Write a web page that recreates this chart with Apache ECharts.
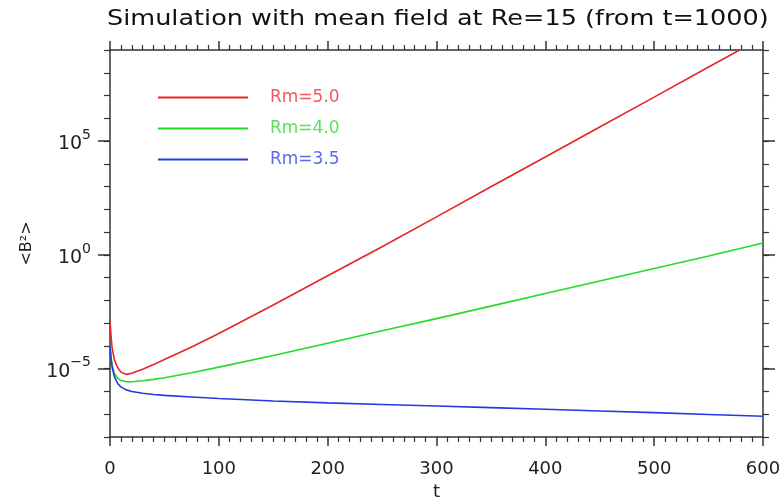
<!DOCTYPE html>
<html>
<head>
<meta charset="utf-8">
<script src="https://cdn.jsdelivr.net/npm/echarts@6/dist/echarts.min.js"></script>
<style>
  html, body { margin: 0; padding: 0; background: #fff; }
  #chart { width: 784px; height: 499px; }
</style>
</head>
<body>
<div id="chart"></div>
<script>
// time samples (t) shared by all three runs
const times = [0, 1, 2, 4, 7, 10, 15, 20, 30, 40, 50, 75, 100, 150, 200, 250, 300, 350, 400, 450, 500, 550, 600];

// log10 <B^2>
const rm50 = [-2.9, -3.6, -4.1, -4.6, -4.95, -5.15, -5.25, -5.2, -5.02, -4.82, -4.6, -4.05, -3.45, -2.2, -0.92, 0.36, 1.67, 2.99, 4.3, 5.62, 6.93, 8.25, 9.56];
const rm40 = [-4.0, -4.5, -4.85, -5.2, -5.42, -5.52, -5.57, -5.57, -5.53, -5.47, -5.4, -5.18, -4.93, -4.42, -3.88, -3.33, -2.8, -2.25, -1.7, -1.15, -0.6, -0.05, 0.52];
const rm35 = [-4.0, -4.55, -4.95, -5.35, -5.65, -5.8, -5.93, -6.0, -6.08, -6.13, -6.17, -6.24, -6.31, -6.42, -6.5, -6.57, -6.64, -6.71, -6.78, -6.86, -6.93, -7.01, -7.09];

const seriesNames = ["Rm=5.0", "Rm=4.0", "Rm=3.5"];
const seriesValues = [rm50, rm40, rm35];
const lineColors = ["#e82424", "#24dc24", "#2438e4"];
const textColors = ["#f05a5a", "#5ae05a", "#5a6ae8"];

const xTicks = [0, 100, 200, 300, 400, 500, 600];
const yLabelExps = [-5, 0, 5];

const chart = echarts.init(document.getElementById("chart"), null, { renderer: "canvas" });

const axisColor = "#333";
const font = "DejaVu Sans";

const xAxisBase = {
  type: "value",
  gridIndex: 0,
  min: 0,
  max: 600,
  interval: 100,
  axisLine: { show: true, onZero: false, lineStyle: { color: axisColor, width: 1.5 } },
  axisTick: { show: true, length: 9, lineStyle: { color: axisColor, width: 1.5 } },
  minorTick: { show: true, splitNumber: 10, length: 5, lineStyle: { color: axisColor, width: 1.2 } },
  splitLine: { show: false },
};

// ticks every decade, short
const yMinor = (pos) => ({
  type: "value",
  gridIndex: 0,
  position: pos,
  offset: 0,
  min: -8,
  max: 9,
  interval: 1,
  axisLine: { show: true, onZero: false, lineStyle: { color: axisColor, width: 1.5 } },
  axisTick: { show: true, length: 6, lineStyle: { color: axisColor, width: 1.2 } },
  axisLabel: { show: false },
  splitLine: { show: false },
});

// longer ticks at the labelled decades
const yMajor = (pos) => ({
  type: "value",
  gridIndex: 0,
  position: pos,
  offset: 0,
  min: -8,
  max: 9,
  axisLine: { show: false, onZero: false },
  axisTick: { show: true, length: 12, customValues: yLabelExps, lineStyle: { color: axisColor, width: 1.5 } },
  axisLabel: { show: false },
  splitLine: { show: false },
});

const option = {
  animation: false,
  backgroundColor: "#fff",
  graphic: [
    {
      type: "text",
      x: 107,
      y: 19,
      scaleX: 1.16,
      style: {
        text: "Simulation with mean field at Re=15 (from t=1000)",
        font: "22px '" + font + "'",
        fill: "#111",
        verticalAlign: "middle",
      },
    },
  ],
  legend: {
    orient: "vertical",
    left: 153,
    top: 84,
    itemWidth: 90,
    itemHeight: 2,
    itemGap: 14,
    icon: "rect",
    textStyle: { fontFamily: font, fontSize: 17, padding: [0, 0, 8, 17] },
    data: seriesNames.map((n, i) => ({ name: n, textStyle: { color: textColors[i] } })),
  },
  grid: { left: 110, right: 21, top: 50, bottom: 62, outerBoundsMode: "none", containLabel: false },
  xAxis: [
    Object.assign({}, xAxisBase, {
      position: "bottom",
      name: "t",
      nameLocation: "middle",
      nameGap: 44,
      nameTextStyle: { fontFamily: font, fontSize: 18, color: "#222" },
      axisLabel: {
        margin: 23,
        fontFamily: font,
        fontSize: 18,
        color: "#222",
        customValues: xTicks,
      },
    }),
    Object.assign({}, xAxisBase, { position: "top", axisLabel: { show: false } }),
  ],
  yAxis: [
    Object.assign(yMinor("left"), {
      name: "<B²>",
      nameLocation: "middle",
      nameGap: 66,
      nameRotate: 90,
      nameTextStyle: { fontFamily: font, fontSize: 16, color: "#222" },
      axisLabel: {
        show: true,
        margin: 19,
        customValues: yLabelExps,
        formatter: (v) => "{b|10}{s|" + (v < 0 ? "\u2212" + -v : v) + "}",
        rich: {
          b: { fontFamily: font, fontSize: 19, color: "#222", verticalAlign: "bottom", lineHeight: 26 },
          s: { fontFamily: font, fontSize: 14, color: "#222", verticalAlign: "top", lineHeight: 14 },
        },
      },
    }),
    yMinor("right"),
    yMajor("left"),
    yMajor("right"),
  ],
  series: seriesNames.map((name, i) => ({
    name: name,
    type: "line",
    xAxisIndex: 0,
    yAxisIndex: 0,
    showSymbol: false,
    clip: true,
    color: lineColors[i],
    lineStyle: { width: 1.6, color: lineColors[i] },
    data: times.map((t, k) => [t, seriesValues[i][k]]),
  })),
};

chart.setOption(option);
</script>
</body>
</html>
